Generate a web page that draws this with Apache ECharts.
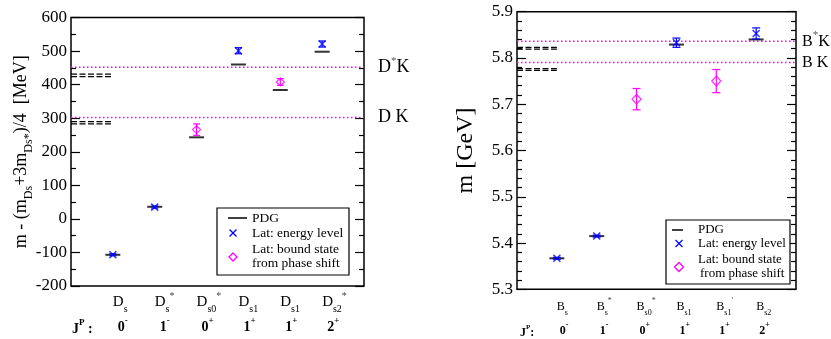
<!DOCTYPE html>
<html>
<head>
<meta charset="utf-8">
<script src="https://cdn.jsdelivr.net/npm/echarts@6.0.0/dist/echarts.min.js"></script>
<style>
html, body { margin: 0; padding: 0; background: #fff; }
#chart { width: 831px; height: 339px; }
</style>
</head>
<body>
<div id="chart"></div>
<script>
var SERIF = '"Liberation Serif", "DejaVu Serif", serif';

// Ds panel, MeV relative to (m_Ds + 3 m_Ds*)/4
var dSub = ['s', 's', 's0', 's1', 's1', 's2'];
var dSup = ['', '*', '*', '', '', '*'];
var dPdgSlot = [1, 2, 3, 4, 5, 6];
var dPdg = [-107, 36, 243, 460, 384, 498];
var dLatSlot = [1, 2, 4, 6];
var dLatVal = [-107, 35, 501, 521];
var dLatErr = [3, 3, 9, 9];
var dBoundSlot = [3, 5];
var dBoundVal = [266, 408];
var dBoundErr = [17, 10];
var dThrLat = [302, 452];
var dThrStar = ['', '*'];
var dThrPhys = [283, 290, 424, 431];

// Bs panel, GeV
var bSub = ['s', 's', 's0', 's1', 's1', 's2'];
var bSup = ['', '*', '*', '', "'", ''];
var bPdgSlot = [1, 2, 4, 6];
var bPdg = [5.367, 5.415, 5.829, 5.840];
var bLatSlot = [1, 2, 4, 6];
var bLatVal = [5.367, 5.415, 5.833, 5.853];
var bLatErr = [0.002, 0.002, 0.010, 0.012];
var bBoundSlot = [3, 5];
var bBoundVal = [5.711, 5.750];
var bBoundErr = [0.023, 0.025];
var bThrLat = [5.790, 5.836];
var bThrStar = ['', '*'];
var bThrPhys = [5.773, 5.777, 5.819, 5.823];

// J^P row, same for both panels
var jpSpin = ['0', '1', '0', '1', '1', '2'];
var jpParity = ['-', '-', '+', '+', '+', '+'];

var X_PATH = 'path://M0,0L10,10M10,0L0,10';

function pts(slots, vals) {
    return slots.map(function (s, i) { return [s, vals[i]]; });
}
function bars(slots, vals, errs) {
    return slots.map(function (s, i) { return [s, vals[i] - errs[i], vals[i] + errs[i]]; });
}
function errBar(half) {
    return function (params, api) {
        var x = api.value(0);
        var top = api.coord([x, api.value(2)]);
        var bot = api.coord([x, api.value(1)]);
        var st = { stroke: api.visual('color'), lineWidth: 1.2 };
        return {
            type: 'group',
            children: [
                { type: 'line', shape: { x1: top[0], y1: top[1], x2: bot[0], y2: bot[1] }, style: st },
                { type: 'line', shape: { x1: top[0] - half, y1: top[1], x2: top[0] + half, y2: top[1] }, style: st },
                { type: 'line', shape: { x1: bot[0] - half, y1: bot[1], x2: bot[0] + half, y2: bot[1] }, style: st }
            ]
        };
    };
}

function panelSeries(p) {
    var s = [];
    p.thrPhys.forEach(function (v) {
        s.push({
            type: 'line', xAxisIndex: p.xi, yAxisIndex: p.yi, data: [[0, v], [1, v]],
            symbol: 'none', silent: true, z: 1,
            lineStyle: { color: '#000', width: 1.2, type: [6, 2.5] }
        });
    });
    p.thrLat.forEach(function (v, i) {
        var txt = p.thrStar[i] ? '{m|' + p.meson + '}{u|*}{m|K}' : '{m|' + p.meson + ' K}';
        s.push({
            type: 'line', xAxisIndex: p.xi, yAxisIndex: p.yi, data: [[0, v], [7, v]],
            symbol: 'none', silent: true, z: 1,
            lineStyle: { color: '#ff00ff', width: 1.5, type: [1.5, 2.5] },
            endLabel: {
                show: true, distance: p.thrGap, formatter: txt,
                rich: {
                    m: { fontFamily: SERIF, fontSize: p.thrFont, lineHeight: p.thrFont + 2, color: '#000' },
                    u: { fontFamily: SERIF, fontSize: 11, lineHeight: 11, padding: [0, 0, 12, 0], color: '#555' }
                }
            }
        });
    });
    s.push({
        type: 'scatter', xAxisIndex: p.xi, yAxisIndex: p.yi, data: pts(p.pdgSlot, p.pdg),
        symbol: 'rect', symbolSize: [15, 2], itemStyle: { color: '#000' }, z: 2
    });
    s.push({
        type: 'custom', xAxisIndex: p.xi, yAxisIndex: p.yi, data: bars(p.latSlot, p.latVal, p.latErr),
        renderItem: errBar(p.cap), encode: { x: 0, y: [1, 2] }, itemStyle: { color: '#0000ff' }, z: 3
    });
    s.push({
        type: 'scatter', xAxisIndex: p.xi, yAxisIndex: p.yi, data: pts(p.latSlot, p.latVal),
        symbol: X_PATH, symbolSize: 7, z: 4,
        itemStyle: { color: 'rgba(0,0,0,0)', borderColor: '#0000ff', borderWidth: 1.5 }
    });
    s.push({
        type: 'custom', xAxisIndex: p.xi, yAxisIndex: p.yi, data: bars(p.boundSlot, p.boundVal, p.boundErr),
        renderItem: errBar(p.cap), encode: { x: 0, y: [1, 2] }, itemStyle: { color: '#ff00ff' }, z: 3
    });
    s.push({
        type: 'scatter', xAxisIndex: p.xi, yAxisIndex: p.yi, data: pts(p.boundSlot, p.boundVal),
        symbol: 'diamond', symbolSize: p.diamond, z: 4,
        itemStyle: { color: 'rgba(255,255,255,0)', borderColor: '#ff00ff', borderWidth: 1.3 }
    });
    return s;
}

function xLabels(meson, subs, sups, big) {
    return {
        show: true, align: 'left', margin: big ? 4 : 5,
        formatter: function (v) {
            var i = Math.round(v) - 1;
            if (i < 0 || i >= subs.length) return '';
            return '{m|' + meson + '}{sb|' + subs[i] + '}' + (sups[i] ? '{sp|' + sups[i] + '}' : '') +
                '\n{j|' + jpSpin[i] + '}{js|' + jpParity[i] + '}';
        },
        rich: {
            m: { fontFamily: SERIF, fontSize: big ? 15 : 12, lineHeight: big ? 24 : 26, color: '#000' },
            sb: { fontFamily: SERIF, fontSize: big ? 10 : 8, lineHeight: big ? 10 : 8, padding: [big ? 14 : 12, 0, 0, 0], color: '#000' },
            sp: { fontFamily: SERIF, fontSize: big ? 10 : 8, lineHeight: big ? 10 : 8, padding: [0, 0, 12, 0], color: '#444' },
            j: { fontFamily: SERIF, fontWeight: 'bold', fontSize: big ? 14 : 12, lineHeight: big ? 26 : 22, padding: [0, 0, 0, big ? 5 : 3], color: '#000' },
            js: { fontFamily: SERIF, fontWeight: 'bold', fontSize: big ? 9 : 8, lineHeight: 9, padding: [0, 0, 12, 0], color: '#000' }
        }
    };
}

function xAxisFor(gi, lab) {
    return {
        gridIndex: gi, type: 'value', min: 0, max: 7, interval: 1,
        axisLine: { show: false }, axisTick: { show: false }, splitLine: { show: false },
        axisLabel: lab
    };
}

function yAxisFor(gi, min, max, step, minor, side, dec, name) {
    var ax = {
        gridIndex: gi, type: 'value', position: side, min: min, max: max, interval: step,
        axisLine: { show: false }, splitLine: { show: false },
        axisTick: { show: true, inside: true, length: 9, lineStyle: { color: '#000', width: 1.2 } },
        minorTick: { show: true, splitNumber: minor, length: 5, lineStyle: { color: '#000', width: 1.2 } },
        axisLabel: {
            show: side === 'left', margin: 4, fontFamily: SERIF, fontSize: 17, color: '#000',
            formatter: function (v) { return dec ? v.toFixed(dec) : String(Math.round(v)); }
        }
    };
    if (name) {
        ax.name = name.text;
        ax.nameLocation = 'middle';
        ax.nameRotate = 90;
        ax.nameGap = name.gap;
        ax.nameMoveOverlap = false;
        ax.nameTextStyle = { rich: name.rich };
    }
    return ax;
}

var chart = echarts.init(document.getElementById('chart'));

var leftName = {
    text: '{t|m - (m}{s|Ds}{t|+3m}{s|Ds*}{t|)/4  [MeV]}',
    gap: 39,
    rich: {
        t: { fontFamily: SERIF, fontSize: 18, lineHeight: 22, color: '#000' },
        s: { fontFamily: SERIF, fontSize: 12, lineHeight: 12, padding: [16, 0, 0, 0], color: '#000' }
    }
};
var rightName = {
    text: '{t|m [GeV]}',
    gap: 37,
    rich: { t: { fontFamily: SERIF, fontSize: 24, lineHeight: 28, color: '#000' } }
};

var legendFont = function (size) {
    return { fontFamily: SERIF, fontSize: size, fill: '#000', verticalAlign: 'middle' };
};
function legendGraphics(box, iconX, lineX1, lineX2, textX, rows, size, diam, fromIndent) {
    var t = legendFont(size);
    var h = 3.5;
    return [
        { type: 'rect', shape: box, style: { fill: '#fff', stroke: '#000', lineWidth: 1.2 }, z: 50 },
        { type: 'line', shape: { x1: lineX1, y1: rows[0], x2: lineX2, y2: rows[0] }, style: { stroke: '#000', lineWidth: 1.5 }, z: 51 },
        { type: 'text', x: textX, y: rows[0], style: Object.assign({ text: 'PDG' }, t), z: 51 },
        { type: 'line', shape: { x1: iconX - h, y1: rows[1] - h, x2: iconX + h, y2: rows[1] + h }, style: { stroke: '#0000ff', lineWidth: 1.3 }, z: 51 },
        { type: 'line', shape: { x1: iconX - h, y1: rows[1] + h, x2: iconX + h, y2: rows[1] - h }, style: { stroke: '#0000ff', lineWidth: 1.3 }, z: 51 },
        { type: 'text', x: textX, y: rows[1], style: Object.assign({ text: 'Lat: energy level' }, t), z: 51 },
        { type: 'polygon', shape: { points: [[iconX, rows[4] - diam], [iconX + diam, rows[4]], [iconX, rows[4] + diam], [iconX - diam, rows[4]]] },
          style: { fill: '#fff', stroke: '#ff00ff', lineWidth: 1.3 }, z: 51 },
        { type: 'text', x: textX, y: rows[2], style: Object.assign({ text: 'Lat: bound state' }, t), z: 51 },
        { type: 'text', x: textX + fromIndent, y: rows[3], style: Object.assign({ text: 'from phase shift' }, t), z: 51 }
    ];
}

function jpLabel(x, y, size) {
    return {
        type: 'text', x: x, y: y, z: 51,
        style: {
            text: '{j|J}{p|P}{j|' + (size > 13 ? ' :' : ':') + '}', verticalAlign: 'middle',
            rich: {
                j: { fontFamily: SERIF, fontWeight: 'bold', fontSize: size, lineHeight: size + 4, fill: '#000' },
                p: { fontFamily: SERIF, fontWeight: 'bold', fontSize: size - 5, lineHeight: size - 5, padding: [0, 0, 12, 0], fill: '#000' }
            }
        }
    };
}

var series = panelSeries({
    xi: 0, yi: 0, meson: 'D', thrFont: 18, thrGap: 14, cap: 3.5, diamond: [8, 8],
    thrPhys: dThrPhys, thrLat: dThrLat, thrStar: dThrStar,
    pdgSlot: dPdgSlot, pdg: dPdg,
    latSlot: dLatSlot, latVal: dLatVal, latErr: dLatErr,
    boundSlot: dBoundSlot, boundVal: dBoundVal, boundErr: dBoundErr
}).concat(panelSeries({
    xi: 1, yi: 2, meson: 'B', thrFont: 16, thrGap: 6, cap: 4, diamond: [9, 10],
    thrPhys: bThrPhys, thrLat: bThrLat, thrStar: bThrStar,
    pdgSlot: bPdgSlot, pdg: bPdg,
    latSlot: bLatSlot, latVal: bLatVal, latErr: bLatErr,
    boundSlot: bBoundSlot, boundVal: bBoundVal, boundErr: bBoundErr
}));

var option = {
    animation: false,
    backgroundColor: '#fff',
    grid: [
        { left: 71, top: 17.5, width: 293, height: 268.5, show: true, borderColor: '#000', borderWidth: 1.5, outerBoundsMode: 'none' },
        { left: 517, top: 11.7, width: 279, height: 277.6, show: true, borderColor: '#000', borderWidth: 1.5, outerBoundsMode: 'none' }
    ],
    xAxis: [
        xAxisFor(0, xLabels('D', dSub, dSup, true)),
        xAxisFor(1, xLabels('B', bSub, bSup, false))
    ],
    yAxis: [
        yAxisFor(0, -200, 600, 100, 2, 'left', 0, leftName),
        yAxisFor(0, -200, 600, 100, 2, 'right', 0, null),
        yAxisFor(1, 5.3, 5.9, 0.1, 5, 'left', 1, rightName),
        yAxisFor(1, 5.3, 5.9, 0.1, 5, 'right', 1, null)
    ],
    graphic: legendGraphics({ x: 217, y: 208, width: 132, height: 67 }, 233, 228, 247, 252,
        [218, 233, 249, 263, 257], 13.5, 4, 0)
        .concat(legendGraphics({ x: 666, y: 220, width: 124, height: 64 }, 679, 672, 683, 698,
        [230, 243.5, 260, 273.5, 267], 13, 4.5, 2))
        .concat([jpLabel(72, 329, 14), jpLabel(520, 333, 12)]),
    series: series
};
chart.setOption(option);
</script>
</body>
</html>
